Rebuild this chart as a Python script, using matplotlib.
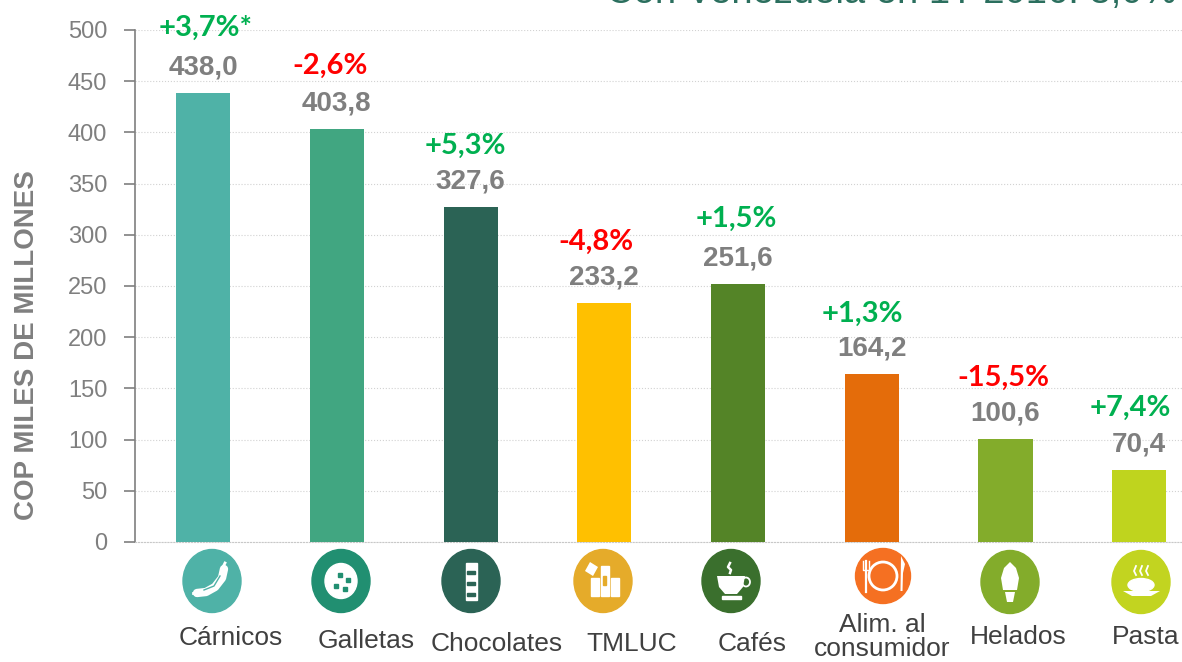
import numpy as np
import matplotlib
matplotlib.use('Agg')
import matplotlib.pyplot as plt
from matplotlib.patches import Ellipse, Rectangle, Polygon

# Data
categories = ['Cárnicos', 'Galletas', 'Chocolates', 'TMLUC', 'Cafés',
              'Alim. al\nconsumidor', 'Helados', 'Pasta']
values = [438.0, 403.8, 327.6, 233.2, 251.6, 164.2, 100.6, 70.4]
changes = ['+3,7%*', '-2,6%', '+5,3%', '-4,8%', '+1,5%', '+1,3%', '-15,5%', '+7,4%']
bar_colors = ['#4FB2A7', '#41A681', '#2B6355', '#FFC000', '#548427',
              '#E46C0A', '#83AC2B', '#BFD41E']
icon_colors = ['#4FB2A7', '#218F71', '#2B6355', '#E5AB2A', '#3A6F2D',
               '#F57022', '#83AC2B', '#C2D420']
title = 'Con Venezuela en 1T 2016: 8,0%'

W, H = 1182, 662
GREEN, RED, GRAY = '#00B050', '#FF0000', '#7F7F7F'

plt.rcParams['font.family'] = ['Liberation Sans', 'DejaVu Sans']

fig = plt.figure(figsize=(W / 100, H / 100), dpi=100)

# main axes placed on the pixel positions of the reference
left, right, top, bottom = 135, 1182, 30, 542
ax = fig.add_axes([left / W, 1 - bottom / H, (right - left) / W, (bottom - top) / H])
x = np.arange(len(values))
ax.bar(x, values, width=0.405, color=bar_colors, zorder=3)
ax.set_xlim(-0.51, 7.32)
ax.set_ylim(0, 500)
ax.set_yticks(np.arange(0, 501, 50))
ax.set_xticks([])
ax.tick_params(axis='y', labelsize=17, labelcolor=GRAY, color=GRAY, length=8, width=1.2, pad=12)
ax.grid(axis='y', color='#D2D2D2', linestyle=':', linewidth=0.8, zorder=0)
for side in ['top', 'right']:
    ax.spines[side].set_visible(False)
ax.spines['left'].set_color(GRAY)
ax.spines['left'].set_linewidth(1.2)
ax.spines['bottom'].set_color('#C8C8C8')
ax.spines['bottom'].set_linestyle(':')

# value labels and the change above them (change labels sit off centre in the original)
change_dx = [2, -7, -5, -8, -2, -9, -2, -9]
change_dy = [38, 35.5, 34, 35, 37.5, 34, 35, 35]
for i, v in enumerate(values):
    ax.annotate(f'{v:.1f}'.replace('.', ','), (x[i], v), xytext=(0, 9), textcoords='offset points',
                ha='center', va='bottom', fontsize=20, fontweight='bold', color=GRAY, clip_on=False)
    ax.annotate(changes[i], (x[i], v), xytext=(change_dx[i] * 0.72, change_dy[i]),
                textcoords='offset points', ha='center', va='bottom', fontsize=21,
                fontweight='bold', family=['Lato', 'DejaVu Sans'],
                color=RED if changes[i].startswith('-') else GREEN, clip_on=False)

# overlay in pixel coordinates for icons, category names and the cut off title
ov = fig.add_axes([0, 0, 1, 1])
ov.set_xlim(0, W)
ov.set_ylim(H, 0)
ov.axis('off')
ov.patch.set_alpha(0)

ov.text(27, 345, 'COP MILES DE MILLONES', rotation=90, ha='center', va='center',
        fontsize=20, fontweight='bold', color=GRAY)

icon_x = [212, 341, 471, 603, 731, 883, 1010, 1141]
icon_y = [581, 581, 581, 581, 581, 576, 582, 582]
icon_w = [58, 58, 58, 58, 58, 55, 58, 58]
icon_h = [63, 63, 63, 63, 63, 55, 63, 63]
label_x = [231, 366, 497, 632, 752, 882, 1018, 1146]
label_y = [638, 641, 644, 644, 644, 637, 637, 637]
for i in range(len(categories)):
    ov.add_patch(Ellipse((icon_x[i], icon_y[i]), icon_w[i], icon_h[i], color=icon_colors[i]))
    ov.text(label_x[i], label_y[i], categories[i], ha='center', va='center', fontsize=19,
            color='#404040', linespacing=1.0)


def blob(pts, cx, cy, fc='white'):
    ov.add_patch(Polygon([(cx + a, cy + b) for a, b in pts], closed=True, fc=fc, ec='none'))


# Cárnicos: sausage
cx, cy = icon_x[0], icon_y[0]
ov.plot([cx - 15, cx - 6, cx + 3, cx + 10, cx + 12], [cy + 12, cy + 11, cy + 6, cy - 3, cy - 12],
        color='white', lw=6, solid_capstyle='round')
ov.plot([cx - 19, cx - 16], [cy + 12, cy + 12], color='white', lw=2)
ov.plot([cx + 11, cx + 13], [cy - 14, cy - 18], color='white', lw=2)
ov.plot([cx - 8, cx + 2, cx + 8], [cy + 9, cy + 5, cy - 5], color=icon_colors[0], lw=1)

# Galletas: cookie
cx, cy = icon_x[1], icon_y[1]
ov.add_patch(Ellipse((cx, cy), 32, 35, color='white'))
for a, b in [(-1, -6), (7, -1), (-5, 5), (4, 8)]:
    ov.add_patch(Rectangle((cx + a - 2, cy + b - 2), 4, 4, color=icon_colors[1]))

# Chocolates: bar
cx, cy = icon_x[2], icon_y[2]
ov.add_patch(Rectangle((cx - 5.5, cy - 18), 11, 37, color='white'))
for b in [-9, 2, 13]:
    ov.add_patch(Rectangle((cx - 4, cy + b - 1.5), 8, 3, color=icon_colors[2]))

# TMLUC: boxes
cx, cy = icon_x[3], icon_y[3]
ov.add_patch(Rectangle((cx - 12, cy - 3), 8, 18, color='white'))
ov.add_patch(Rectangle((cx - 2, cy - 15), 8, 30, color='white'))
ov.add_patch(Rectangle((cx + 8, cy - 3), 8, 18, color='white'))
blob([(-13, -20), (-5, -15), (-10, -6), (-18, -11)], cx, cy + 1)
ov.add_patch(Rectangle((cx, cy - 5), 3, 9, color=icon_colors[3]))

# Cafés: cup
cx, cy = icon_x[4], icon_y[4]
blob([(-14, -5), (14, -5), (12, 6), (6, 13), (-6, 13), (-12, 6)], cx, cy)
ov.add_patch(Ellipse((cx + 15, cy + 1), 8, 9, fc='none', ec='white', lw=1.3))
ov.add_patch(Rectangle((cx - 9, cy + 15), 19, 3, color='white'))
ov.plot([cx - 1, cx - 3, cx, cx - 1], [cy - 18, cy - 14, cy - 11, cy - 8], color='white', lw=1.8)

# Alim. al consumidor: plate, fork, knife
cx, cy = icon_x[5], icon_y[5]
ov.add_patch(Ellipse((cx, cy), 28, 28, fc='none', ec='white', lw=2))
ov.plot([cx - 17, cx - 17], [cy - 15, cy + 16], color='white', lw=1.6)
ov.plot([cx - 20, cx - 20, cx - 14, cx - 14], [cy - 15, cy - 6, cy - 6, cy - 15], color='white', lw=1)
blob([(18, -20), (22, -12), (20, -3), (19.5, 15), (17.5, 15)], cx, cy)

# Helados: ice cream
cx, cy = icon_x[6], icon_y[6]
blob([(0, -20), (6, -14), (9, -4), (7, 8), (-7, 8), (-9, -4), (-6, -14)], cx, cy)
blob([(-5, 10), (5, 10), (3, 20), (-3, 20)], cx, cy)

# Pasta: plate with steam
cx, cy = icon_x[7], icon_y[7]
blob([(-18, 9), (19, 9), (10, 14), (-9, 14)], cx, cy)
ov.add_patch(Ellipse((cx, cy + 3), 26, 13, color='white'))
for a in [-5, 1, 7]:
    ov.plot([cx + a, cx + a - 2, cx + a], [cy - 16, cy - 11, cy - 7], color='white', lw=1.3)

# title is cut by the top edge in the reference
ov.text(1176, 3, title, ha='right', va='baseline', fontsize=27.5, color='#2B6F5E', clip_on=True)

fig.savefig('out.png', dpi=100)
